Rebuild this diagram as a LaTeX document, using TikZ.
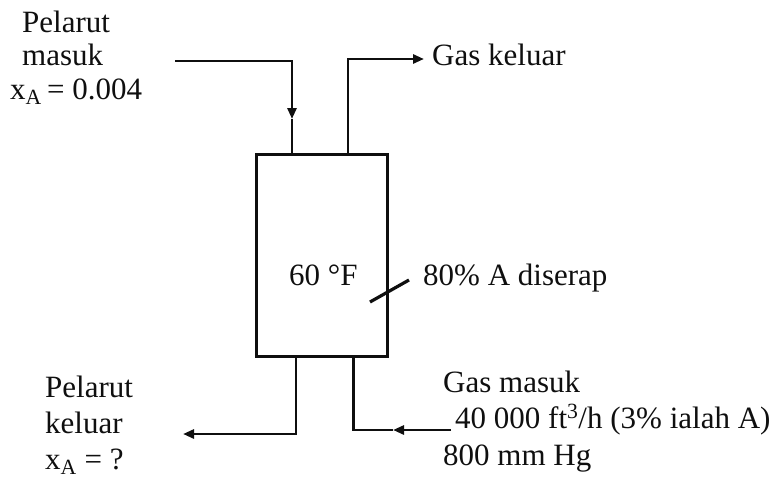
\documentclass[tikz,border=0pt]{standalone}
\usepackage{fontspec}
\setmainfont{Liberation Serif}
\usetikzlibrary{arrows.meta,positioning,calc}
\definecolor{tinta}{RGB}{15,15,15}

\begin{document}
\begin{tikzpicture}[x=1pt,y=-1pt,
    lbl/.style={anchor=base west,inner sep=0pt,font=\fontsize{31}{34}\selectfont,text=tinta},
    pipe/.style={draw=tinta,line width=2.8pt},
    tip/.style={-{Triangle[length=11pt,width=9pt]}}]
  \useasboundingbox (0,0) rectangle (779,480);
  % kolom penyerap
  \node[draw=tinta,line width=3pt,minimum width=131pt,minimum height=202pt,inner sep=0pt,outer sep=0pt] (kolom) at (321.5,255) {};
  \node[lbl] (suhu) at (289,285) {60 °F};
  % titik sambungan
  \coordinate (pelarutMasuk) at (175,61);
  \coordinate (panahMasuk) at (292,119);
  \coordinate (keluarAtas) at (348,59);
  \coordinate (gasKeluar) at (424,59);
  \coordinate (turunKiri) at (296,434);
  \coordinate (pelarutKeluar) at (183,434);
  \coordinate (gasMasuk) at (451,430);
  \coordinate (panahGas) at (393,430);
  % aliran
  \draw[pipe,tip] (pelarutMasuk) -| (panahMasuk);
  \draw[pipe] (panahMasuk) -- (panahMasuk |- kolom.north);
  \draw[pipe,tip] (keluarAtas |- kolom.north) |- (gasKeluar);
  \draw[pipe,tip] (turunKiri |- kolom.south) -- (turunKiri) -- (pelarutKeluar);
  \draw[pipe,tip] (gasMasuk) -- (panahGas);
  \draw[pipe] (panahGas) -| ($(kolom.south)+(32,0)$);
  % tanda serapan
  \coordinate (garisA) at (370,302);
  \coordinate (garisB) at (409,280);
  \draw[pipe,line width=3.2pt] (garisA) -- (garisB);
  % label
  \node[lbl] (p1) at (22,32) {Pelarut};
  \node[lbl] (p2) at (22,65) {masuk};
  \node[lbl] (p3) at (10,99) {x\textsubscript{A}\,= 0.004};
  \node[lbl] (gk) at (432,65) {Gas keluar};
  \node[lbl] (serap) at (423,285) {80\% A diserap};
  \node[lbl] (k1) at (45,397) {Pelarut};
  \node[lbl] (k2) at (45,433) {keluar};
  \node[lbl] (k3) at (45,469) {x\textsubscript{A} = ?};
  \node[lbl] (g1) at (443,392) {Gas masuk};
  \node[lbl] (g2) at (455,428) {40 000 ft\textsuperscript{3}/h (3\% ialah A)};
  \node[lbl] (g3) at (443,465) {800 mm Hg};
\end{tikzpicture}
\end{document}
